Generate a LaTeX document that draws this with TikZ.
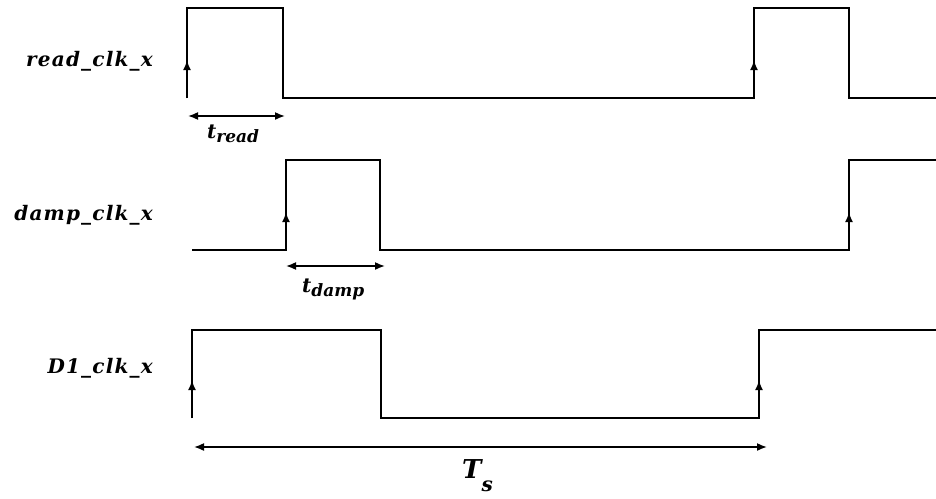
\documentclass[tikz,border=0pt]{standalone}
\usepackage{fontspec}
\usetikzlibrary{arrows.meta}
\newfontfamily\sigfont{DejaVu Serif}[LetterSpace=6]
\newfontfamily\labfont{DejaVu Serif}
\newcommand{\lowsub}[3]{\raisebox{-#2}{\fontsize{#1}{#1}\selectfont #3}}

\tikzset{
  wave/.style={line width=2.8pt, line join=miter},
  edgearrow/.style={line width=2.8pt, -{Latex[length=10pt,width=8pt]}},
  dimline/.style={line width=1.6pt, {Latex[length=10pt,width=8pt]}-{Latex[length=10pt,width=8pt]}},
  signame/.style={anchor=base east, inner sep=0pt, font=\sigfont\fontsize{20}{22}\selectfont\bfseries\itshape},
  dimlabel/.style={anchor=base west, inner sep=0pt, font=\labfont\fontsize{20}{22}\selectfont\bfseries\itshape},
}

\begin{document}
\begin{tikzpicture}[x=1pt, y=-1pt]
  \useasboundingbox (0,0) rectangle (936,498);

  % signal names
  \node[signame] (nread) at (153,66) {read\_clk\_x};
  \node[signame] (ndamp) at (153,220) {damp\_clk\_x};
  \node[signame] (nd1) at (153,373) {D1\_clk\_x};

  % read clock
  \draw[wave] (187,98) -- (187,8) -- (283,8) -- (283,98) -- (754,98) -- (754,8)
    -- (849,8) -- (849,98) -- (936,98);
  \draw[edgearrow] (187,98) -- (187,60);
  \draw[edgearrow] (754,98) -- (754,60);

  % damp clock
  \draw[wave] (192,250) -- (286,250) -- (286,160) -- (380,160) -- (380,250)
    -- (849,250) -- (849,160) -- (936,160);
  \draw[edgearrow] (286,250) -- (286,212);
  \draw[edgearrow] (849,250) -- (849,212);

  % D1 clock
  \draw[wave] (192,418) -- (192,330) -- (381,330) -- (381,418) -- (759,418)
    -- (759,330) -- (936,330);
  \draw[edgearrow] (192,418) -- (192,380);
  \draw[edgearrow] (759,418) -- (759,380);

  % widths
  \coordinate (ra) at (188,116);
  \coordinate (rb) at (285,116);
  \draw[dimline] (ra) -- (rb);
  \node[dimlabel] (tread) at (207,138) {t\lowsub{17}{4pt}{read}};
  \coordinate (da) at (286,266);
  \coordinate (db) at (385,266);
  \draw[dimline] (da) -- (db);
  \node[dimlabel] (tdamp) at (302,292) {t\lowsub{17}{4pt}{damp}};
  \coordinate (ta) at (194,447);
  \coordinate (tb) at (767,447);
  \draw[dimline] (ta) -- (tb);
  \node[dimlabel, font=\labfont\fontsize{26}{28}\selectfont\bfseries\itshape]
    (ts) at (462,478) {T\lowsub{20}{13pt}{s}};
\end{tikzpicture}
\end{document}
